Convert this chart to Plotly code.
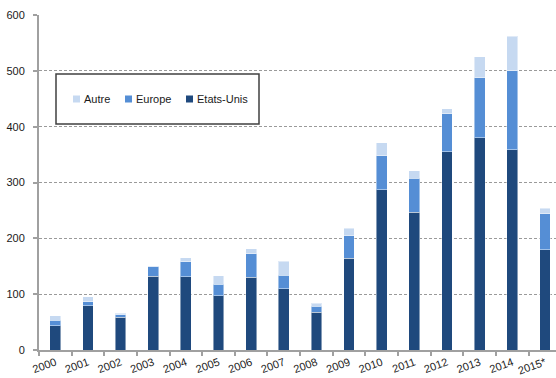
import plotly.graph_objects as go

years = ["2000", "2001", "2002", "2003", "2004", "2005", "2006", "2007",
         "2008", "2009", "2010", "2011", "2012", "2013", "2014", "2015*"]
etats_unis = [43, 79, 59, 132, 131, 97, 130, 110, 68, 164, 287, 247, 355, 380, 359, 180]
europe = [10, 7, 4, 17, 27, 21, 42, 24, 10, 41, 61, 61, 68, 108, 141, 64]
autre = [8, 9, 3, 2, 7, 15, 9, 25, 6, 13, 23, 13, 9, 37, 62, 10]

series = [
    ("Etats-Unis", etats_unis, "#1F497D"),
    ("Europe", europe, "#558ED5"),
    ("Autre", autre, "#C6D9F1"),
]

W, H = 556, 378
L, R, T, B = 39, 0, 15, 28
PW, PH = W - L - R, H - T - B


def px_x(x):
    return (x - L) / PW


def px_y(y):
    return (H - B - y) / PH


fig = go.Figure()
for name, vals, color in series:
    fig.add_trace(go.Bar(
        x=years, y=vals, name=name, width=0.33,
        marker=dict(color=color, line=dict(color="rgba(255,255,255,0.45)", width=1)),
        showlegend=False,
    ))

# legend box drawn in paper coordinates
shapes = [dict(type="rect", xref="paper", yref="paper",
               x0=px_x(56), x1=px_x(259), y0=px_y(124), y1=px_y(74),
               line=dict(color="#404040", width=1.5), fillcolor="white", layer="above")]
annotations = []
legend_items = [("Autre", "#C6D9F1", 73), ("Europe", "#558ED5", 125), ("Etats-Unis", "#1F497D", 186)]
for label, color, sx in legend_items:
    shapes.append(dict(type="rect", xref="paper", yref="paper",
                       x0=px_x(sx), x1=px_x(sx + 7), y0=px_y(102.5), y1=px_y(95.5),
                       line=dict(width=0), fillcolor=color, layer="above"))
    annotations.append(dict(text=label, xref="paper", yref="paper",
                            x=px_x(sx + 9), y=px_y(99), xanchor="left", yanchor="middle",
                            showarrow=False, font=dict(size=11, color="#1a1a1a")))

fig.update_layout(
    width=W, height=H,
    margin=dict(l=L, r=R, t=T, b=B),
    barmode="stack",
    bargap=0.67,
    plot_bgcolor="white", paper_bgcolor="white",
    font=dict(family="Liberation Sans, Arial, sans-serif", size=11, color="#1a1a1a"),
    shapes=shapes,
    annotations=annotations,
    xaxis=dict(
        type="category", range=[-0.5, 15.34],
        showline=True, linecolor="#a0a0a0", linewidth=2,
        ticks="outside", tickson="boundaries", ticklen=4, tickcolor="#a0a0a0", tickwidth=1.5,
        tickangle=-20, showgrid=False,
    ),
    yaxis=dict(
        range=[0, 600], tickvals=[0, 100, 200, 300, 400, 500, 600],
        showline=True, linecolor="#a0a0a0", linewidth=2,
        ticks="outside", ticklen=4, tickcolor="#a0a0a0", tickwidth=1.5,
        ticklabelstandoff=6,
        showgrid=True, gridcolor="#9a9a9a", gridwidth=1, griddash="3px,2px",
        zeroline=False,
    ),
)

fig.write_html("out.html")
